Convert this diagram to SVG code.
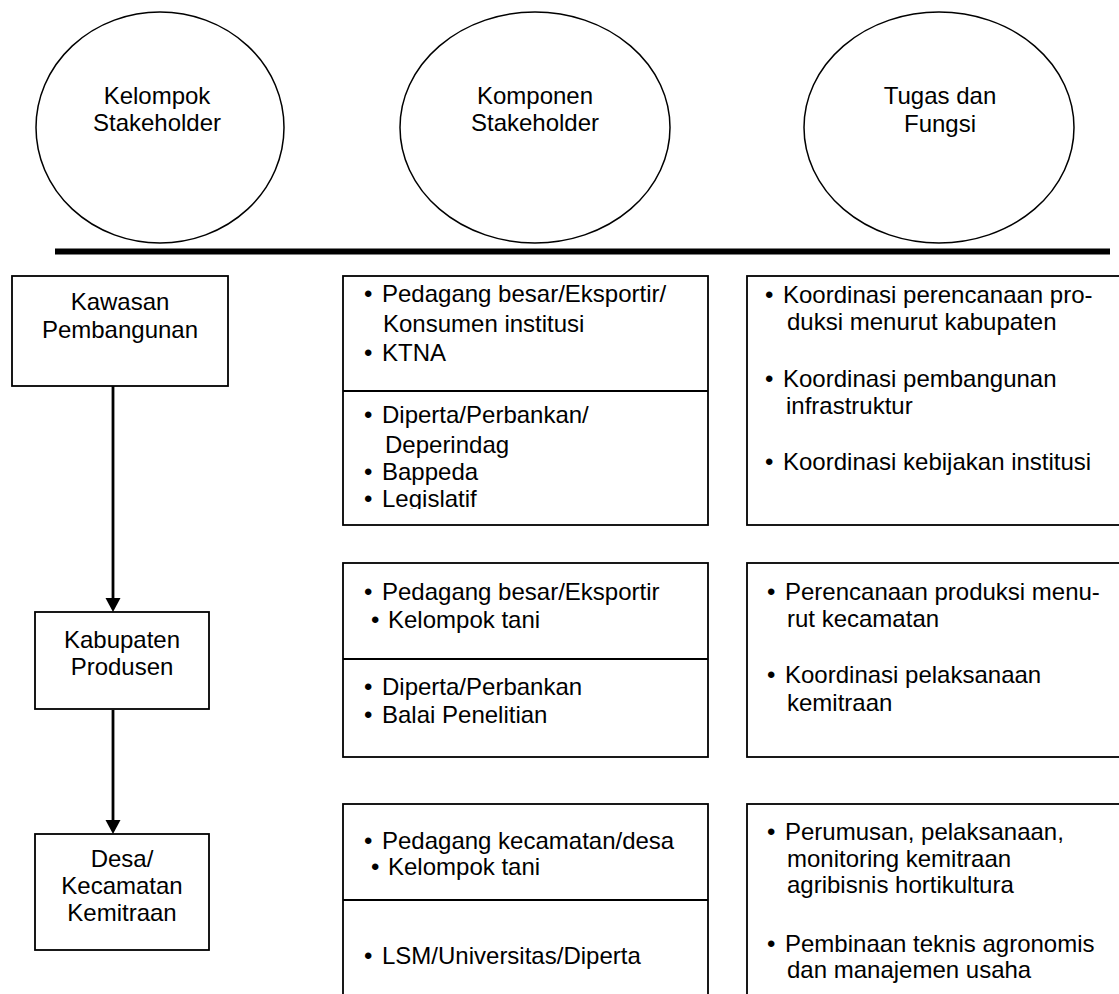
<svg xmlns="http://www.w3.org/2000/svg" width="1119" height="994" viewBox="0 0 1119 994">
<style>
text{font-family:"Liberation Sans",Arial,sans-serif;font-size:24px;fill:#000}
.c{text-anchor:middle}
.box{fill:#fff;stroke:#000;stroke-width:1.8}
.div{stroke:#000;stroke-width:1.8}
.ell{fill:#fff;stroke:#000;stroke-width:1.5}
.con{stroke:#000;stroke-width:2.8;fill:none}
.head{fill:#000;stroke:none}
</style>
<defs>
<clipPath id="clipLeg"><rect x="340" y="485" width="300" height="24"/></clipPath>
</defs>
<rect width="1119" height="994" fill="#fff"/>

<g id="ellipse-kelompok">
<ellipse class="ell" cx="160" cy="127.5" rx="124" ry="115.5"/>
<text class="c" x="157" y="104">Kelompok</text>
<text class="c" x="157" y="131">Stakeholder</text>
</g>
<g id="ellipse-komponen">
<ellipse class="ell" cx="535" cy="127.5" rx="135" ry="115.5"/>
<text class="c" x="535" y="104">Komponen</text>
<text class="c" x="535" y="131">Stakeholder</text>
</g>
<g id="ellipse-tugas">
<ellipse class="ell" cx="939" cy="127.5" rx="135" ry="115.5"/>
<text class="c" x="940" y="104">Tugas dan</text>
<text class="c" x="940" y="132">Fungsi</text>
</g>

<g id="separator">
<line x1="55" y1="251.5" x2="1110" y2="251.5" stroke="#000" stroke-width="6"/>
</g>

<g id="connectors">
<line class="con" x1="113" y1="386" x2="113" y2="600"/>
<path class="head" d="M105.5,598 L120.5,598 L113,612 Z"/>
<line class="con" x1="113" y1="710" x2="113" y2="822"/>
<path class="head" d="M105.5,820 L120.5,820 L113,834 Z"/>
</g>

<g id="kawasan">
<rect class="box" x="12" y="276" width="216" height="110"/>
<text class="c" x="120" y="310">Kawasan</text>
<text class="c" x="120" y="338">Pembangunan</text>
</g>
<g id="kabupaten">
<rect class="box" x="35" y="612" width="174" height="97"/>
<text class="c" x="122" y="648">Kabupaten</text>
<text class="c" x="122" y="675">Produsen</text>
</g>
<g id="desa">
<rect class="box" x="35" y="834" width="174" height="116"/>
<text class="c" x="122" y="867">Desa/</text>
<text class="c" x="122" y="894">Kecamatan</text>
<text class="c" x="122" y="921">Kemitraan</text>
</g>

<g id="komponen-1">
<rect class="box" x="343" y="276" width="365" height="249"/>
<line class="div" x1="343" y1="391" x2="708" y2="391"/>
<text x="364" y="302">•</text><text x="382" y="302">Pedagang besar/Eksportir/</text>
<text x="383" y="332">Konsumen institusi</text>
<text x="364" y="361">•</text><text x="382" y="361">KTNA</text>
<text x="364" y="423">•</text><text x="382" y="423">Diperta/Perbankan/</text>
<text x="385" y="453">Deperindag</text>
<text x="364" y="480">•</text><text x="382" y="480">Bappeda</text>
<g clip-path="url(#clipLeg)"><text x="364" y="507">•</text><text x="382" y="507">Legislatif</text></g>
</g>
<g id="tugas-1">
<rect class="box" x="747" y="276" width="380" height="249"/>
<text x="765" y="303">•</text><text x="783" y="303">Koordinasi perencanaan pro-</text>
<text x="787" y="330">duksi menurut kabupaten</text>
<text x="765" y="387">•</text><text x="783" y="387">Koordinasi pembangunan</text>
<text x="786" y="414">infrastruktur</text>
<text x="765" y="470">•</text><text x="783" y="470">Koordinasi kebijakan institusi</text>
</g>

<g id="komponen-2">
<rect class="box" x="343" y="563" width="365" height="194"/>
<line class="div" x1="343" y1="659" x2="708" y2="659"/>
<text x="364" y="600">•</text><text x="382" y="600">Pedagang besar/Eksportir</text>
<text x="371" y="628">•</text><text x="388" y="628">Kelompok tani</text>
<text x="364" y="695">•</text><text x="382" y="695">Diperta/Perbankan</text>
<text x="364" y="723">•</text><text x="382" y="723">Balai Penelitian</text>
</g>
<g id="tugas-2">
<rect class="box" x="747" y="563" width="380" height="194"/>
<text x="767" y="600">•</text><text x="785" y="600">Perencanaan produksi menu-</text>
<text x="787" y="627">rut kecamatan</text>
<text x="767" y="683">•</text><text x="785" y="683">Koordinasi pelaksanaan</text>
<text x="787" y="711">kemitraan</text>
</g>

<g id="komponen-3">
<rect class="box" x="343" y="804" width="365" height="220"/>
<line class="div" x1="343" y1="900" x2="708" y2="900"/>
<text x="364" y="849">•</text><text x="382" y="849">Pedagang kecamatan/desa</text>
<text x="371" y="875">•</text><text x="388" y="875">Kelompok tani</text>
<text x="364" y="964">•</text><text x="382" y="964">LSM/Universitas/Diperta</text>
</g>
<g id="tugas-3">
<rect class="box" x="747" y="804" width="380" height="220"/>
<text x="767" y="840">•</text><text x="785" y="840">Perumusan, pelaksanaan,</text>
<text x="787" y="867">monitoring kemitraan</text>
<text x="787" y="893">agribisnis hortikultura</text>
<text x="767" y="952">•</text><text x="785" y="952">Pembinaan teknis agronomis</text>
<text x="787" y="978">dan manajemen usaha</text>
</g>
</svg>
